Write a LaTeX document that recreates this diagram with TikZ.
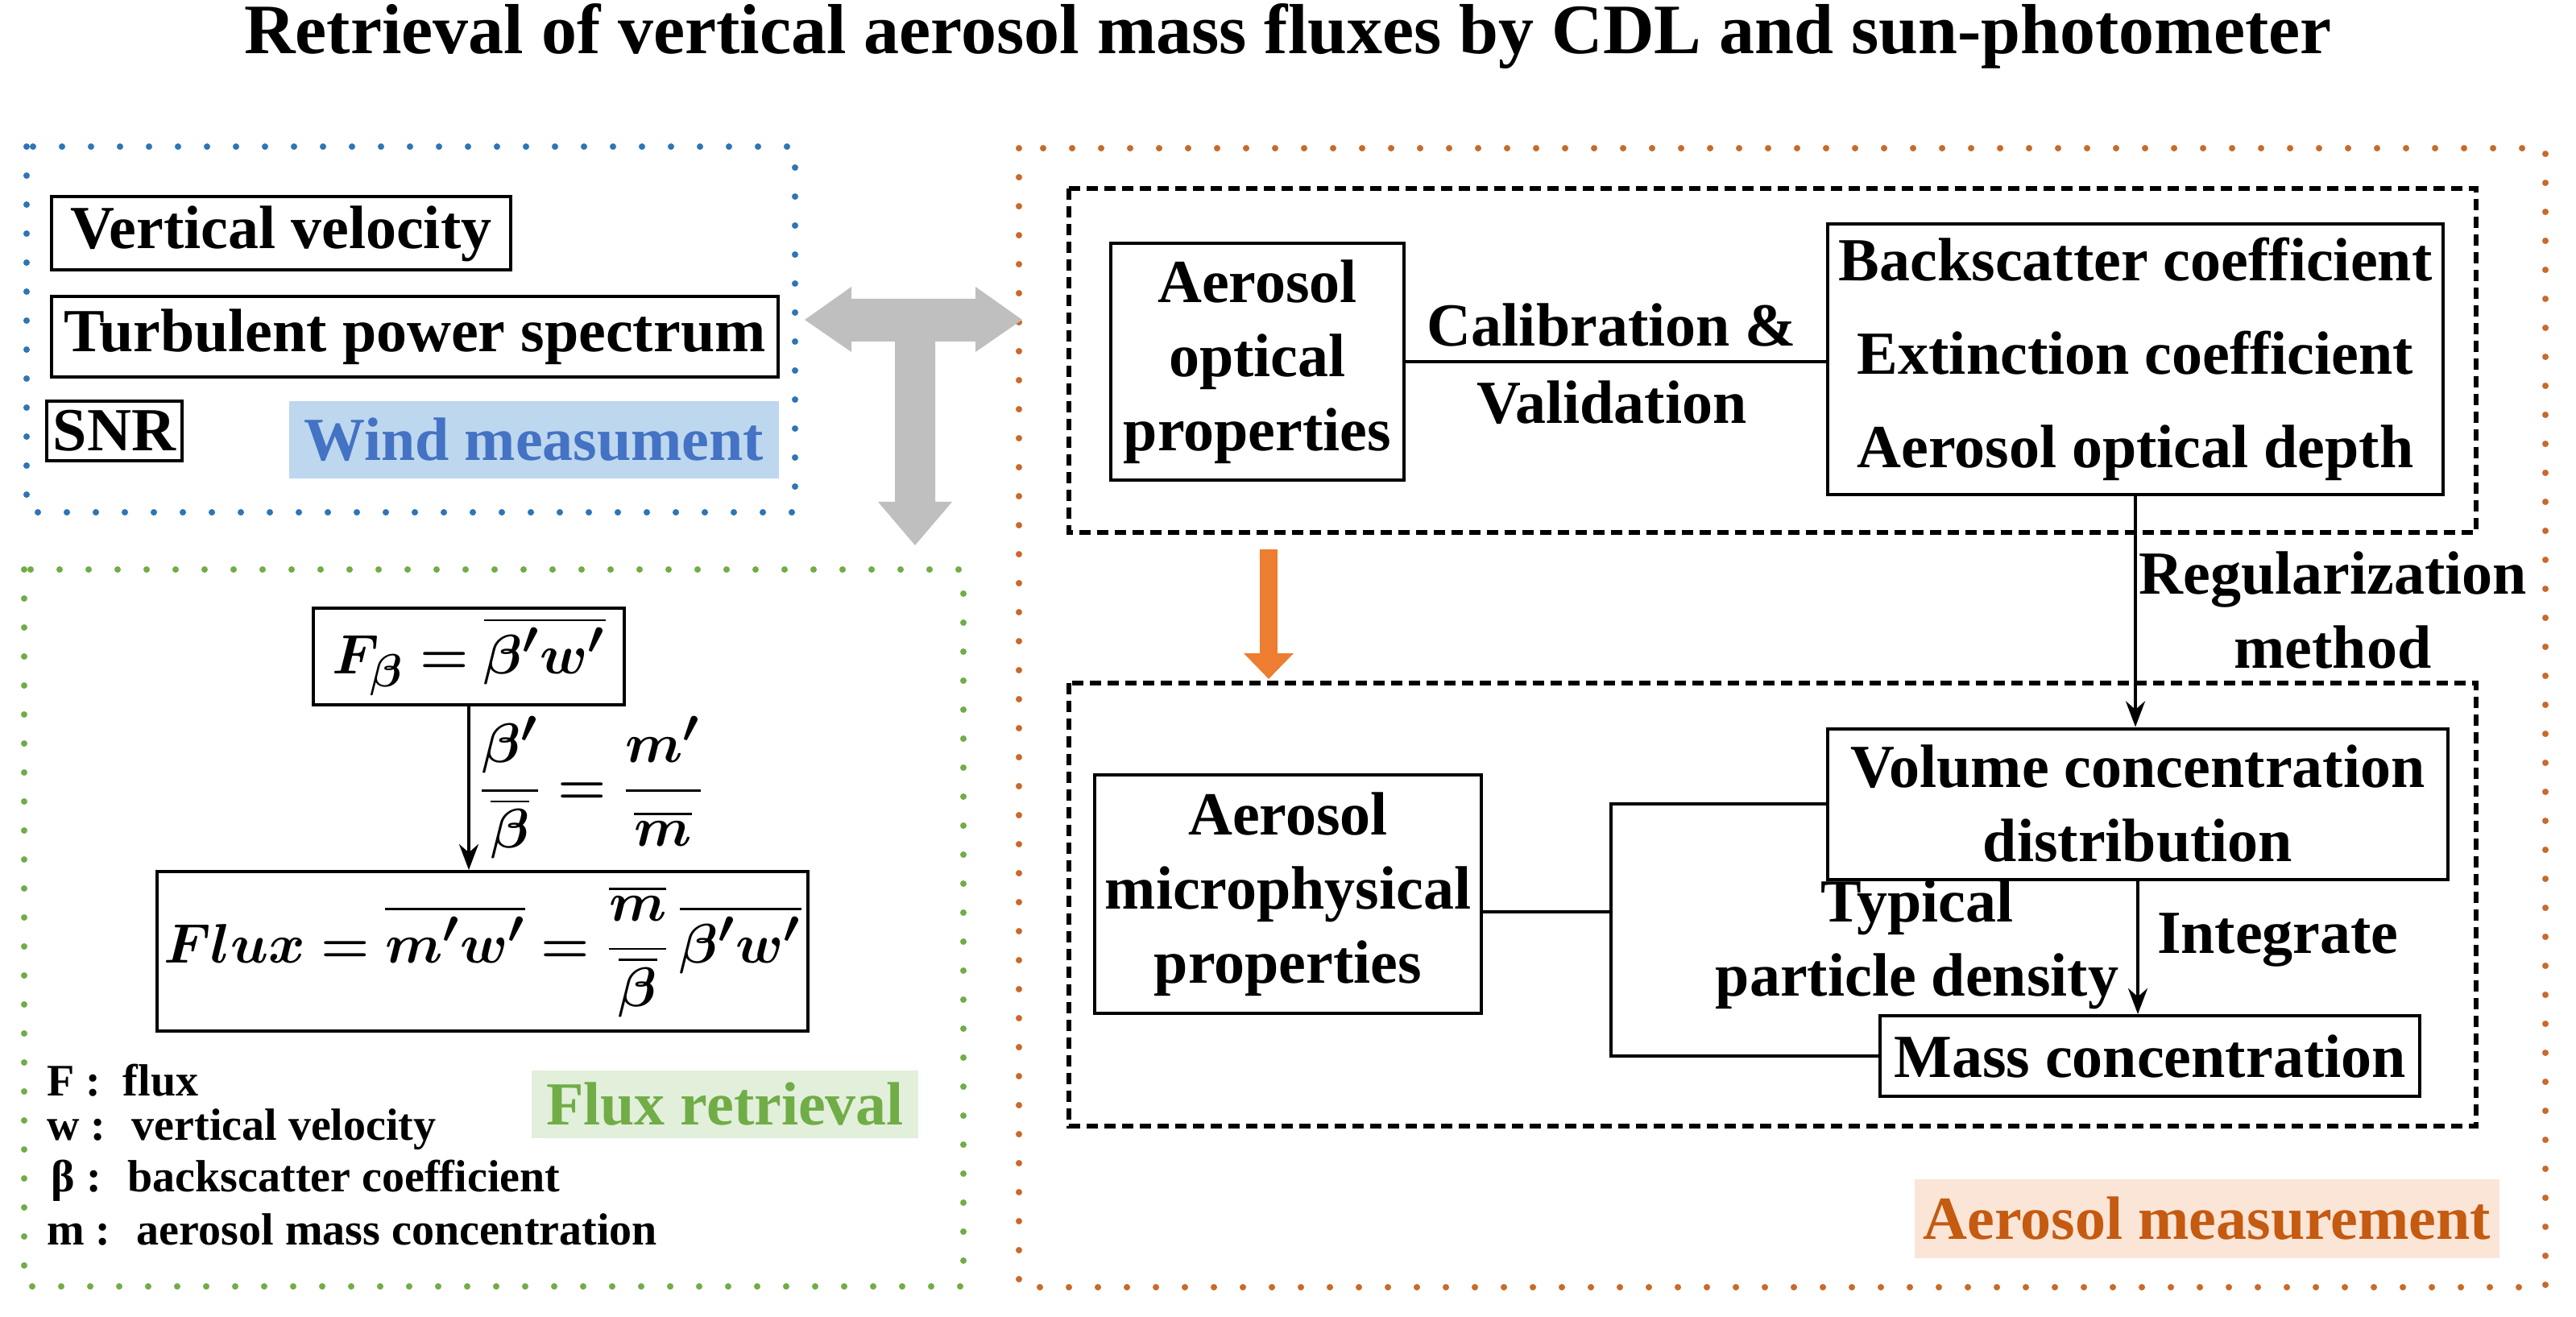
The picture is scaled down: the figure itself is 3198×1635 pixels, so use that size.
\documentclass[tikz,border=0pt]{standalone}
\usepackage{fontspec}
\setmainfont{Liberation Serif}
\usepackage{amsmath,bm}
\usetikzlibrary{arrows.meta}

\definecolor{windblue}{RGB}{46,117,182}
\definecolor{windtext}{RGB}{68,114,196}
\definecolor{windbg}{RGB}{189,215,238}
\definecolor{fluxgreen}{RGB}{112,173,71}
\definecolor{fluxbg}{RGB}{226,239,218}
\definecolor{aerorange}{RGB}{197,90,17}
\definecolor{aerobg}{RGB}{251,229,214}
\definecolor{arrorange}{RGB}{237,125,49}
\definecolor{arrgray}{RGB}{191,191,191}

\tikzset{every picture/.style={line width=1pt}}
\tikzset{
  box/.style={draw, line width=1pt, inner sep=2pt, align=center, font=\fontsize{19}{23}\selectfont\bfseries},
  txt/.style={inner sep=1pt, align=center, font=\fontsize{19}{23}\selectfont\bfseries},
  legend/.style={inner sep=1pt, anchor=west, font=\fontsize{14}{16}\selectfont\bfseries},
  dotbox/.style={line width=2pt, line cap=round, dash pattern=on 0pt off 9pt},
  dashbox/.style={line width=1.5pt, dash pattern=on 3.5pt off 2pt},
  tag/.style={inner sep=0pt, font=\fontsize{19}{23}\selectfont\bfseries}
}

\begin{document}
\begin{tikzpicture}[x=0.25pt,y=0.25pt,yscale=-1,xscale=1]
\useasboundingbox (0,0) rectangle (3198,1635);

% Title
\node[txt, font=\fontsize{22}{26}\selectfont\bfseries] (title) at (1599,45) {Retrieval of vertical aerosol mass fluxes by CDL and sun-photometer};

% Frames
\draw[dotbox, windblue] (33,182) rectangle (987,636);
\draw[dotbox, fluxgreen] (30,707) rectangle (1196,1597);
\draw[dotbox, arrorange!85!black] (1265,184) rectangle (3160,1598);
\draw[dashbox] (1327,234) rectangle (3074,661);
\draw[dashbox] (1327,848) rectangle (3074,1398);

% Wind measurement
\node[box, minimum width=142.5pt, minimum height=22.75pt] (vel) at (349,290) {Vertical velocity};
\node[box, minimum width=225.5pt, minimum height=25pt] (turb) at (515,418) {Turbulent power spectrum};
\node[box, minimum width=41pt, minimum height=18.5pt] (snr) at (142,535) {SNR};
\node[tag, fill=windbg, text=windtext, minimum width=152pt, minimum height=24pt] (wind) at (663,546) {Wind measument};

% Gray double arrow
\fill[arrgray] (999,397) -- (1057,356) -- (1057,371) -- (1211,371) -- (1211,356) -- (1269,397)
  -- (1211,437) -- (1211,424) -- (1161,424) -- (1161,623) -- (1182,623) -- (1136,677)
  -- (1090,623) -- (1111,623) -- (1111,424) -- (1057,424) -- (1057,437) -- cycle;

% Flux retrieval
\node[box, minimum width=96.5pt, minimum height=30pt] (fb) at (582,815) {$\bm{F_{\beta}=\overline{\beta' w'}}$};
\node[box, minimum width=153pt, minimum height=49.5pt] (flux) at (599,1181) {$\bm{Flux=\overline{m'w'}=\dfrac{\overline{m}}{\overline{\beta}}\,\overline{\beta' w'}}$};
\draw[-{Stealth[length=8pt,width=6pt]}] (fb.south) -- (fb.south |- flux.north);
\node[txt] (ratio) at (734,978) {$\bm{\dfrac{\beta'}{\overline{\beta}}=\dfrac{m'}{\overline{m}}}$};
\node[legend] (lf) at (52,1341) {F :~ flux};
\node[legend] (lw) at (52,1402) {w :~ vertical velocity};
\node[legend] (lb) at (58,1466) {β :~ backscatter coefficient};
\node[legend] (lm) at (52,1526) {m :~ aerosol mass concentration};
\node[tag, fill=fluxbg, text=fluxgreen, minimum width=120pt, minimum height=21pt] (fluxtag) at (900,1371) {Flux retrieval};

% Aerosol measurement
\node[box, minimum width=91pt, minimum height=73.5pt] (aop) at (1561,449) {Aerosol\\optical\\properties};
\node[box, minimum width=191pt, minimum height=84pt] (coef) at (2651,446) {Backscatter coefficient\\[6pt]Extinction coefficient\\[6pt]Aerosol optical depth};
\draw (aop.east) -- (aop.east -| coef.west);
\node[txt] (calib) at (2001,452) {Calibration \&\\[1pt]Validation};

\node[box, minimum width=192.5pt, minimum height=46.75pt] (vol) at (2654,998) {Volume concentration\\distribution};
\draw[-{Stealth[length=8pt,width=6pt]}] (coef.south) -- (coef.south |- vol.north);
\node[txt] (regul) at (2896,758) {Regularization\\method};

\draw[arrorange, line width=5.5pt, -{Triangle[length=8pt,width=15pt]}] (1575,682) -- (1575,843);

\node[box, minimum width=120pt, minimum height=74pt] (micro) at (1599,1110) {Aerosol\\microphysical\\properties};
\node[box, minimum width=167.5pt, minimum height=25pt] (mass) at (2669,1311) {Mass concentration};
\coordinate (jn) at (2000,1132);
\draw (jn -| micro.east) -- (jn);
\draw (vol.west) -| (jn) |- (mass.west);
\draw[-{Stealth[length=8pt,width=6pt]}] (vol.south) -- (vol.south |- mass.north);
\node[txt, anchor=west] (integ) at (2672,1167) {Integrate};
\node[txt] (typ) at (2380,1172) {Typical\\particle density};
\node[tag, fill=aerobg, text=aerorange, minimum width=181.5pt, minimum height=24.5pt] (aerotag) at (2740,1513) {Aerosol measurement};

\end{tikzpicture}
\end{document}
